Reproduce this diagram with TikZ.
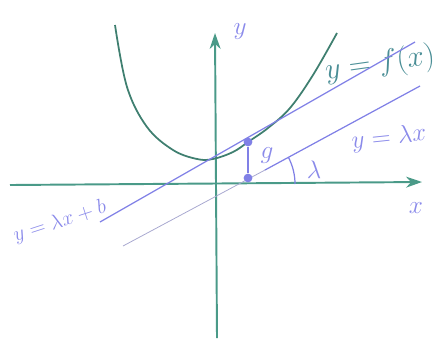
\documentclass[tikz,border=0pt]{standalone}
\usepackage{tikz}
\usetikzlibrary{positioning,arrows.meta}
\definecolor{axisteal}{HTML}{4A9A88}
\definecolor{curveteal}{HTML}{3F7F70}
\definecolor{lineviolet}{HTML}{8080E6}
\definecolor{paleviolet}{HTML}{A8A8D0}
\definecolor{labelviolet}{HTML}{8A8AEA}
\definecolor{labelteal}{HTML}{4A8E96}
\tikzset{
  axis/.style={draw=axisteal, line width=1.1pt, -{Stealth[length=3.2mm, width=2.2mm]}},
  graph/.style={draw=curveteal, line width=1pt},
  slopeline/.style={draw=lineviolet, line width=0.7pt},
  thinline/.style={draw=paleviolet, line width=0.45pt},
  pt/.style={circle, fill=lineviolet, inner sep=0pt, minimum size=5pt},
  lbl/.style={text=labelviolet, font=\Large},
}

\begin{document}
\begin{tikzpicture}[x=0.02cm, y=-0.02cm]
  \useasboundingbox (0,0) rectangle (438,342);
  % axes
  \coordinate (xl) at (10,185);
  \coordinate (xr) at (422,182);
  \coordinate (yb) at (217,338);
  \coordinate (yt) at (215,33);
  \draw[axis] (xl) -- (xr);
  \draw[axis] (yb) -- (yt);
  \node[lbl] (ylab) at (240,32) {$y$};
  \node[lbl] (xlab) at (416,208) {$x$};

  % the curve
  \draw[graph] plot[smooth, tension=0.6] coordinates {(115,25) (127,87) (147,127) (173,150) (197,159) (213,159) (233,152) (248,142) (268,128) (290,108) (313,75) (337,33)};
  \node[text=labelteal, font=\LARGE, rotate=8] (flab) at (380,64) {$y=f(x)$};

  % tangent line and y = lambda x
  \coordinate (ul) at (100,222);
  \coordinate (ur) at (415,42);
  \coordinate (ll) at (123,246);
  \coordinate (lm) at (265,170);
  \coordinate (lr) at (420,86);
  \draw[slopeline] (ul) -- (ur);
  \draw[thinline] (ll) -- (lm);
  \draw[slopeline] (lm) -- (lr);
  \node[lbl, font=\large, rotate=18] (blab) at (60,222) {$y=\lambda x+b$};
  \node[lbl, rotate=6] (llab) at (389,138) {$y=\lambda x$};

  % gap g
  \node[pt] (gt) at (248,142) {};
  \node[pt] (gb) at (248,178) {};
  \draw[slopeline, line width=1pt] (gt) -- (gb);
  \node[lbl] (glab) at (267,156) {$g$};

  % angle
  \draw[slopeline] (295,184) arc[start angle=0, end angle=-28, radius=57];
  \node[lbl] (alab) at (314,170) {$\lambda$};
\end{tikzpicture}
\end{document}
